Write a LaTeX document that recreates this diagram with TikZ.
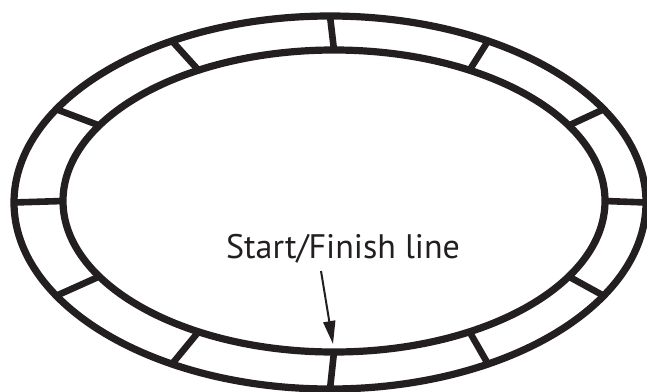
\documentclass[tikz,border=0pt]{standalone}
\usepackage{fontspec}
\setmainfont{PT Sans}
\usetikzlibrary{arrows.meta}
\definecolor{ink}{HTML}{231F20}
\begin{document}
\begin{tikzpicture}[x=1pt,y=-1pt,
  track/.style={draw=ink,line width=7.2pt},
  divider/.style={draw=ink,line width=6.6pt},
  pointer/.style={draw=ink,line width=2pt,-{Triangle[length=23pt,width=12pt]}}]
\useasboundingbox (0,0) rectangle (647,391);
\fill[white] (0,0) rectangle (647,391);
% outer and inner edges of the track
\draw[track] (330,202.5) ellipse [x radius=316, y radius=186.5];
\draw[track] (334,201) ellipse [x radius=271, y radius=151];
% dividers
\foreach \t in {0,30,...,330}{
  \draw[divider] ({330+316*cos(\t)},{202.5+186.5*sin(\t)}) -- ({334+271*cos(\t)},{201+151*sin(\t)});
}
% label and arrow
\node[anchor=base,inner sep=0pt,text=ink,font=\fontsize{34}{34}\selectfont] (label) at (343,258) {Start/Finish line};
\coordinate (arrowstart) at (321,271);
\coordinate (finish) at (333,344);
\draw[pointer] (arrowstart) -- (finish);
\end{tikzpicture}
\end{document}
